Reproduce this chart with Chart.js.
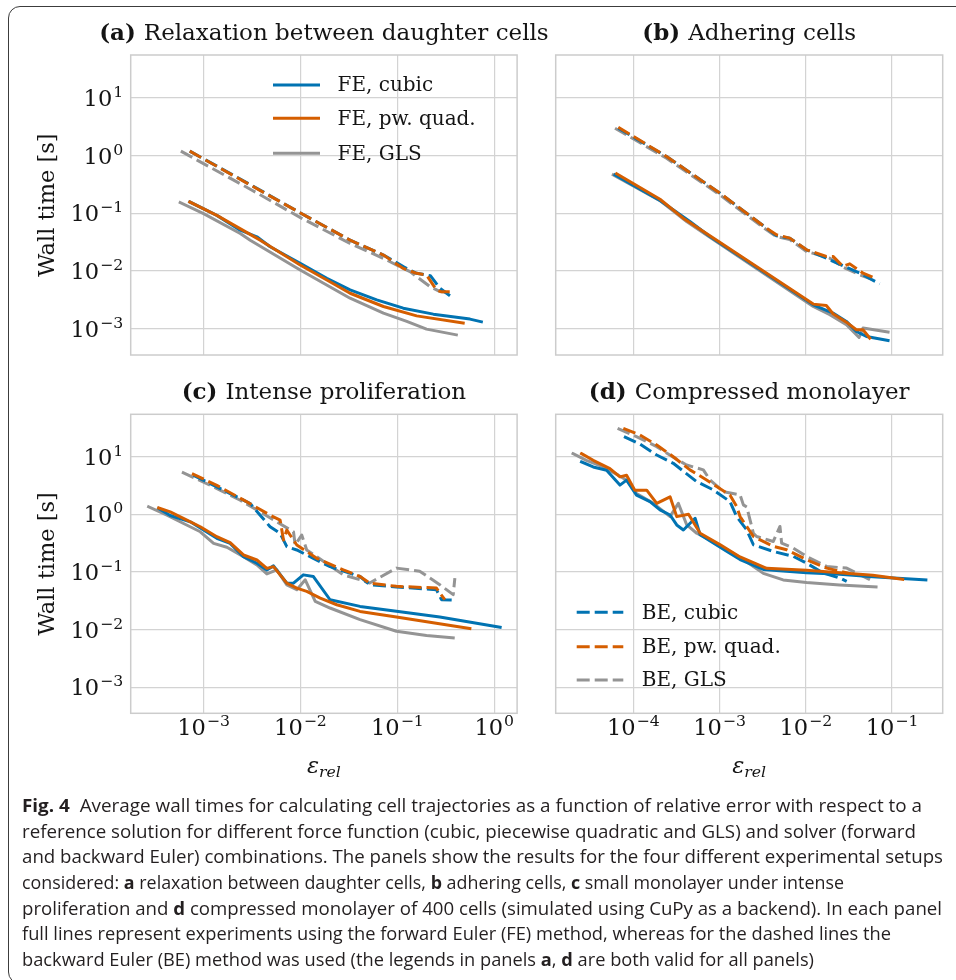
<!DOCTYPE html>
<html>
<head>
<meta charset="utf-8">
<script src="https://cdn.jsdelivr.net/npm/chart.js@4.4.1/dist/chart.umd.min.js"></script>
<style>
  html, body { margin: 0; padding: 0; background: #fff; }
  body { width: 956px; height: 980px; position: relative; overflow: hidden; }
  #frame { position: absolute; left: 8px; top: 6px; width: 990px; height: 978px; border: 1px solid #3c3c3c; border-radius: 12px; box-sizing: border-box; }
  canvas { position: absolute; }
  .cap { position: absolute; left: 22px; white-space: nowrap; font-family: "Open Sans", sans-serif; font-size: 17.5px; line-height: 26px; color: #231f20; transform-origin: 0 50%; }
</style>
</head>
<body>
<div id="frame"></div>
<canvas id="pb" width="416" height="370" style="left:540px;top:0"></canvas>
<canvas id="pd" width="416" height="430" style="left:540px;top:370px"></canvas>
<canvas id="pa" width="560" height="370" style="left:0;top:0"></canvas>
<canvas id="pc" width="560" height="430" style="left:0;top:370px"></canvas>

<div class="cap" data-r="922" style="top:792px"><b>Fig. 4</b>&nbsp; Average wall times for calculating cell trajectories as a function of relative error with respect to a</div>
<div class="cap" data-r="916" style="top:817.7px">reference solution for different force function (cubic, piecewise quadratic and GLS) and solver (forward</div>
<div class="cap" data-r="943" style="top:843.3px">and backward Euler) combinations. The panels show the results for the four different experimental setups</div>
<div class="cap" data-r="844" style="top:869px">considered: <b>a</b> relaxation between daughter cells, <b>b</b> adhering cells, <b>c</b> small monolayer under intense</div>
<div class="cap" data-r="942" style="top:894.7px">proliferation and <b>d</b> compressed monolayer of 400 cells (simulated using CuPy as a backend). In each panel</div>
<div class="cap" data-r="891" style="top:920.3px">full lines represent experiments using the forward Euler (FE) method, whereas for the dashed lines the</div>
<div class="cap" data-r="814" style="top:946px">backward Euler (BE) method was used (the legends in panels <b>a</b>, <b>d</b> are both valid for all panels)</div>

<script>
// ---- data: [relative error, wall time (s)] ----
// (a) relaxation between daughter cells
const relaxFeCubic = [[7.2e-4,0.157],[1.37e-3,0.092],[2.39e-3,0.0509],[3.55e-3,0.0391],[4.86e-3,0.0263],[9.93e-3,0.0136],[1.87e-2,7.48e-3],[3.25e-2,4.7e-3],[6.12e-2,3.16e-3],[0.115,2.27e-3],[0.235,1.79e-3],[0.561,1.47e-3],[0.736,1.32e-3]];
const relaxFeQuad = [[7.2e-4,0.157],[1.37e-3,0.092],[3.84e-3,0.0342],[9.93e-3,0.0127],[1.87e-2,7.0e-3],[3.25e-2,4.12e-3],[7.18e-2,2.43e-3],[0.158,1.67e-3],[0.478,1.26e-3]];
const relaxFeGls = [[5.74e-4,0.153],[1.0e-3,0.0986],[2.39e-3,0.0446],[3.03e-3,0.0342],[9.93e-3,0.0104],[3.25e-2,3.38e-3],[7.18e-2,1.86e-3],[0.125,1.34e-3],[0.2,9.86e-4],[0.406,7.85e-4]];
const relaxBeCubic = [[7.2e-4,1.19],[3.16e-3,0.302],[1.0e-2,0.101],[3.25e-2,0.0342],[7.18e-2,0.0189],[0.115,0.0119],[0.158,9.12e-3],[0.219,8.3e-3],[0.275,5.0e-3],[0.349,3.73e-3]];
const relaxBeQuad = [[7.2e-4,1.19],[3.16e-3,0.297],[1.0e-2,0.101],[3.25e-2,0.0342],[7.18e-2,0.0189],[0.115,0.0111],[0.158,9.12e-3],[0.2,8.53e-3],[0.251,4.8e-3],[0.282,4.37e-3],[0.347,4.37e-3]];
const relaxBeGls = [[5.83e-4,1.19],[3.16e-3,0.251],[1.0e-2,0.0841],[3.25e-2,0.030],[7.18e-2,0.0165],[0.135,9.75e-3],[0.217,5.37e-3],[0.275,4.41e-3],[0.336,4.23e-3]];

// (b) adhering cells
const adhFeCubic = [[6.14e-5,0.462],[2.04e-4,0.166],[4.53e-4,0.0719],[7.73e-4,0.0396],[1.22e-2,2.6e-3],[2.07e-2,1.87e-3],[2.96e-2,1.34e-3],[3.86e-2,8.97e-4],[5.05e-2,7.36e-4],[9.0e-2,6.27e-4]];
const adhFeQuad = [[6.41e-5,0.482],[2.04e-4,0.175],[3.79e-4,0.0822],[7.73e-4,0.0406],[1.22e-2,2.67e-3],[1.73e-2,2.53e-3],[2.07e-2,1.82e-3],[2.96e-2,1.3e-3],[3.86e-2,9.6e-4],[4.61e-2,9.6e-4],[5.51e-2,6.89e-4]];
const adhFeGls = [[5.86e-5,0.462],[2.04e-4,0.166],[4.15e-4,0.0719],[7.73e-4,0.0385],[1.22e-2,2.43e-3],[1.9e-2,1.75e-3],[2.96e-2,1.17e-3],[4.15e-2,7.06e-4],[4.61e-2,1.03e-3],[9.0e-2,8.75e-4]];
const adhBeCubic = [[6.7e-5,2.97],[2.43e-4,0.962],[1.01e-3,0.223],[3.5e-3,0.0552],[4.57e-3,0.0406],[6.53e-3,0.0371],[1.02e-2,0.0233],[1.73e-2,0.0167],[2.7e-2,0.0123],[4.22e-2,9.18e-3],[7.19e-2,6.0e-3]];
const adhBeQuad = [[6.7e-5,3.09],[2.43e-4,0.962],[1.01e-3,0.223],[3.5e-3,0.0552],[4.57e-3,0.0424],[6.53e-3,0.0371],[1.02e-2,0.0233],[1.73e-2,0.0179],[2.07e-2,0.0179],[2.7e-2,0.012],[3.24e-2,0.0133],[4.61e-2,9.18e-3],[6.3e-2,7.52e-3]];
const adhBeGls = [[6.14e-5,2.97],[2.43e-4,0.899],[1.01e-3,0.208],[3.5e-3,0.0516],[4.57e-3,0.0396],[6.53e-3,0.035],[1.02e-2,0.0218],[1.9e-2,0.0167],[2.7e-2,0.0117],[4.22e-2,8.6e-3],[5.77e-2,7.23e-3]];

// (c) intense proliferation
const prolFeCubic = [[3.44e-4,1.27],[4.53e-4,0.962],[7.29e-4,0.746],[1.37e-3,0.385],[1.88e-3,0.315],[2.58e-3,0.185],[3.55e-3,0.142],[4.5e-3,0.109],[5.27e-3,0.128],[7.23e-3,0.0641],[8.47e-3,0.0641],[1.07e-2,0.0893],[1.36e-2,0.0836],[2.02e-2,0.033],[4.12e-2,0.0253],[9.77e-2,0.0208],[0.274,0.0166],[1.15,0.011]];
const prolFeQuad = [[3.44e-4,1.30],[4.53e-4,1.11],[6.73e-4,0.798],[9.25e-4,0.612],[1.37e-3,0.411],[1.88e-3,0.324],[2.58e-3,0.198],[3.55e-3,0.162],[4.5e-3,0.116],[5.27e-3,0.124],[7.23e-3,0.0641],[9.16e-3,0.0525],[1.16e-2,0.046],[1.6e-2,0.0353],[2.37e-2,0.027],[4.12e-2,0.0207],[9.77e-2,0.0166],[0.56,0.0104]];
const prolFeGls = [[2.71e-4,1.36],[4.19e-4,0.973],[6.22e-4,0.698],[9.25e-4,0.501],[1.27e-3,0.315],[1.74e-3,0.269],[2.58e-3,0.185],[3.55e-3,0.133],[4.5e-3,0.0929],[5.7e-3,0.109],[7.23e-3,0.060],[9.16e-3,0.0492],[1.12e-2,0.0733],[1.42e-2,0.0309],[2.02e-2,0.0237],[4.12e-2,0.0149],[9.77e-2,9.35e-3],[0.2,7.9e-3],[0.377,7.16e-3]];
const prolBeCubic = [[7.89e-4,4.79],[1.88e-3,2.31],[3.03e-3,1.55],[3.84e-3,0.973],[4.86e-3,0.612],[6.17e-3,0.469],[7.23e-3,0.276],[9.16e-3,0.242],[1.36e-2,0.173],[2.02e-2,0.124],[4.12e-2,0.0836],[5.18e-2,0.0603],[9.77e-2,0.055],[0.253,0.0494],[0.285,0.0331],[0.407,0.0323]];
const prolBeQuad = [[7.59e-4,5.12],[1.37e-3,3.21],[2.8e-3,1.66],[4.86e-3,0.973],[6.17e-3,0.798],[6.68e-3,0.36],[7.23e-3,0.536],[9.16e-3,0.295],[1.47e-2,0.173],[2.77e-2,0.109],[4.12e-2,0.0836],[5.18e-2,0.0644],[9.77e-2,0.0564],[0.253,0.0528],[0.274,0.0433],[0.309,0.0331]];
const prolBeGls = [[5.98e-4,5.47],[1.27e-3,3.01],[2.39e-3,1.77],[3.84e-3,1.11],[5.7e-3,0.746],[8.47e-3,0.501],[8.81e-3,0.295],[1.03e-2,0.44],[1.16e-2,0.242],[1.47e-2,0.185],[2.77e-2,0.0893],[4.12e-2,0.0733],[5.18e-2,0.0644],[9.77e-2,0.117],[0.17,0.103],[0.274,0.0603],[0.377,0.0405],[0.392,0.0787]];

// (d) compressed monolayer
const monoFeCubic = [[2.51e-5,8.2],[3.43e-5,6.71],[4.9e-5,5.87],[7.0e-5,3.24],[8.36e-5,3.95],[1.09e-4,2.17],[1.56e-4,1.67],[2.04e-4,1.2],[2.67e-4,0.98],[3.19e-4,0.658],[3.81e-4,0.539],[5.21e-4,0.859],[5.96e-4,0.443],[1.22e-3,0.228],[1.73e-3,0.165],[3.22e-3,0.111],[1.02e-2,0.0975],[2.47e-2,0.0912],[5.98e-2,0.0832],[0.247,0.0729]];
const monoFeQuad = [[2.51e-5,11.4],[3.43e-5,8.75],[5.36e-5,6.28],[7.0e-5,4.51],[8.36e-5,4.82],[1.04e-4,2.65],[1.43e-4,2.65],[1.87e-4,1.56],[2.67e-4,2.03],[3.19e-4,0.918],[4.37e-4,1.01],[5.96e-4,0.472],[1.02e-3,0.297],[1.73e-3,0.183],[3.52e-3,0.116],[1.02e-2,0.107],[2.47e-2,0.0975],[5.98e-2,0.0877],[0.133,0.0748]];
const monoFeGls = [[2.0e-5,11.4],[2.86e-5,8.75],[4.48e-5,6.71],[6.7e-5,4.82],[8.36e-5,3.95],[1.09e-4,2.32],[1.71e-4,1.56],[2.67e-4,0.918],[3.33e-4,1.56],[4.17e-4,0.658],[5.44e-4,0.472],[7.78e-4,0.362],[1.22e-3,0.243],[1.9e-3,0.163],[3.22e-3,0.0948],[5.47e-3,0.0729],[1.02e-2,0.0656],[2.47e-2,0.0598],[6.53e-2,0.0553]];
const monoBeCubic = [[7.8e-5,22.5],[1.19e-4,16.8],[1.87e-4,10.8],[2.91e-4,7.76],[5.42e-4,3.73],[8.47e-4,2.68],[1.32e-3,1.68],[1.58e-3,0.923],[2.06e-3,0.542],[2.47e-3,0.298],[4.2e-3,0.228],[7.16e-3,0.187],[1.02e-2,0.143],[1.6e-2,0.0961],[2.49e-2,0.0787],[2.98e-2,0.0689]];
const monoBeQuad = [[7.66e-5,31.4],[1.19e-4,24.1],[1.87e-4,16.1],[2.91e-4,10.1],[4.54e-4,5.96],[7.08e-4,3.99],[9.25e-4,3.06],[1.32e-3,2.19],[1.58e-3,1.38],[1.73e-3,0.923],[2.47e-3,0.415],[4.2e-3,0.279],[6.0e-3,0.244],[1.02e-2,0.164],[1.75e-2,0.117],[3.26e-2,0.0935]];
const monoBeGls = [[6.58e-5,31.4],[1.09e-4,22.5],[1.87e-4,15.1],[2.91e-4,9.86],[4.15e-4,7.26],[6.49e-4,5.96],[7.74e-4,3.99],[1.11e-3,2.5],[1.73e-3,2.19],[1.89e-3,1.47],[2.07e-3,1.35],[2.47e-3,0.472],[2.69e-3,0.415],[4.2e-3,0.34],[5.02e-3,0.619],[5.25e-3,0.318],[7.16e-3,0.261],[1.02e-2,0.187],[1.75e-2,0.125],[2.98e-2,0.117],[5.55e-2,0.0736]];

// tick labels (powers of ten) and axis limits
const yTickExp = [-3, -2, -1, 0, 1];
const xTickExpAC = [-3, -2, -1, 0];
const xTickExpBD = [-4, -3, -2, -1];
const yLim = [3.51e-4, 55.1];
const xLimAC = [1.77e-4, 1.72];
const xLimBD = [1.26e-5, 0.387];

const seriesNames = ['FE, cubic', 'FE, pw. quad.', 'FE, GLS', 'BE, cubic', 'BE, pw. quad.', 'BE, GLS'];

const COLORS = ['#0173b2', '#d55e00', '#949494'];
const SERIF = '"DejaVu Serif", serif';
const INK = '#141414';

function makeDataset(i, pts) {
  const kind = i % 3;
  return {
    label: seriesNames[i],
    data: pts.map(p => ({ x: p[0], y: p[1] })),
    borderColor: COLORS[kind],
    borderWidth: 3,
    borderDash: i >= 3 ? [13, 5] : [],
    borderCapStyle: i >= 3 ? 'butt' : 'square',
    borderJoinStyle: 'round',
    pointRadius: 0,
    tension: 0,
    fill: false,
    order: kind === 1 ? 1 : (kind === 0 ? 2 : 3)
  };
}

function drawPow(ctx, e, x, y, align) {
  const sup = (e < 0 ? '\u2212' : '') + Math.abs(e);
  ctx.font = '22.5px ' + SERIF;
  const w1 = ctx.measureText('10').width;
  ctx.font = '15.7px ' + SERIF;
  const w2 = ctx.measureText(sup).width;
  const start = align === 'right' ? x - w1 - w2 - 1 : x - (w1 + w2 + 1) / 2;
  ctx.textAlign = 'left';
  ctx.textBaseline = 'alphabetic';
  ctx.font = '22.5px ' + SERIF;
  ctx.fillText('10', start, y);
  ctx.font = '15.7px ' + SERIF;
  ctx.fillText(sup, start + w1 + 1, y - 9);
}

const decor = {
  id: 'decor',
  afterDraw(chart, args, o) {
    const ctx = chart.ctx;
    const a = chart.chartArea;
    ctx.save();
    // axes frame
    ctx.strokeStyle = '#cccccc';
    ctx.lineWidth = 1.5;
    ctx.setLineDash([]);
    ctx.strokeRect(a.left, a.top, a.right - a.left, a.bottom - a.top);

    ctx.fillStyle = INK;
    // title
    ctx.textBaseline = 'alphabetic';
    ctx.textAlign = 'left';
    ctx.font = 'bold 23px ' + SERIF;
    const w1 = ctx.measureText(o.tag + ' ').width;
    ctx.font = '23px ' + SERIF;
    const w2 = ctx.measureText(o.title).width;
    const tx = (a.left + a.right) / 2 - (w1 + w2) / 2;
    ctx.font = 'bold 23px ' + SERIF;
    ctx.fillText(o.tag, tx, a.top - 15);
    ctx.font = '23px ' + SERIF;
    ctx.fillText(o.title, tx + w1, a.top - 15);

    // tick labels
    if (o.yTicks) {
      o.yTicks.forEach(e => drawPow(ctx, e, a.left - 7.5, chart.scales.y.getPixelForValue(Math.pow(10, e)) + 8, 'right'));
      ctx.save();
      ctx.translate(53.5, (a.top + a.bottom) / 2);
      ctx.rotate(-Math.PI / 2);
      ctx.font = '22.5px ' + SERIF;
      ctx.textAlign = 'center';
      ctx.textBaseline = 'alphabetic';
      ctx.fillText('Wall time [s]', 0, 0);
      ctx.restore();
    }
    if (o.xTicks) {
      o.xTicks.forEach(e => drawPow(ctx, e, chart.scales.x.getPixelForValue(Math.pow(10, e)), a.bottom + 21.7, 'center'));
      // x label: epsilon_rel
      ctx.font = 'italic 22.5px ' + SERIF;
      const we = ctx.measureText('\u03b5').width;
      ctx.font = 'italic 15.7px ' + SERIF;
      const wr = ctx.measureText('rel').width;
      const lx = (a.left + a.right) / 2 - (we + wr) / 2;
      ctx.textAlign = 'left';
      ctx.font = 'italic 22.5px ' + SERIF;
      ctx.fillText('\u03b5', lx, a.bottom + 59.5);
      ctx.font = 'italic 15.7px ' + SERIF;
      ctx.fillText('rel', lx + we, a.bottom + 63.5);
    }

    // legend (no frame)
    if (o.legend) {
      const L = o.legend;
      L.items.forEach((idx, k) => {
        const ds = chart.data.datasets[idx];
        const y = L.rows[k];
        ctx.strokeStyle = ds.borderColor;
        ctx.lineWidth = 3;
        ctx.lineCap = 'butt';
        ctx.setLineDash(ds.borderDash);
        ctx.beginPath();
        ctx.moveTo(L.x0, y);
        ctx.lineTo(L.x1, y);
        ctx.stroke();
        ctx.setLineDash([]);
        ctx.fillStyle = INK;
        ctx.font = '20px ' + SERIF;
        ctx.textAlign = 'left';
        ctx.textBaseline = 'middle';
        ctx.fillText(ds.label, L.tx, y + 1);
      });
    }
    ctx.restore();
  }
};

function logAxis(lim, exps, horizontal) {
  return {
    type: 'logarithmic',
    min: lim[0],
    max: lim[1],
    afterBuildTicks: s => { s.ticks = exps.map(e => ({ value: Math.pow(10, e) })); },
    afterFit: s => { if (horizontal) s.height = 0; else s.width = 0; },
    ticks: { display: false },
    grid: { color: '#d3d3d3', lineWidth: 1.2, drawTicks: false },
    border: { display: false }
  };
}

function makePanel(id, series, xLim, xExp, pad, deco) {
  const datasets = series.map((pts, i) => makeDataset(i, pts));
  return new Chart(document.getElementById(id), {
    type: 'line',
    data: { datasets },
    options: {
      responsive: false,
      animation: false,
      devicePixelRatio: 1,
      layout: { padding: pad },
      plugins: { legend: { display: false }, tooltip: { enabled: false }, decor: deco },
      scales: {
        x: logAxis(xLim, xExp, true),
        y: logAxis(yLim, yTickExp, false)
      }
    },
    plugins: [decor]
  });
}

makePanel('pa', [relaxFeCubic, relaxFeQuad, relaxFeGls, relaxBeCubic, relaxBeQuad, relaxBeGls], xLimAC, xTickExpAC,
  { left: 130.7, top: 55, right: 42.9, bottom: 15 },
  { tag: '(a)', title: 'Relaxation between daughter cells', yTicks: yTickExp, xTicks: null,
    legend: { items: [0, 1, 2], x0: 273, x1: 320, rows: [85, 118.3, 153.3], tx: 337.5 } });

makePanel('pb', [adhFeCubic, adhFeQuad, adhFeGls, adhBeCubic, adhBeQuad, adhBeGls], xLimBD, xTickExpBD,
  { left: 15.7, top: 55, right: 13.3, bottom: 15 },
  { tag: '(b)', title: 'Adhering cells', yTicks: null, xTicks: null, legend: null });

makePanel('pc', [prolFeCubic, prolFeQuad, prolFeGls, prolBeCubic, prolBeQuad, prolBeGls], xLimAC, xTickExpAC,
  { left: 130.7, top: 44.3, right: 42.9, bottom: 86.7 },
  { tag: '(c)', title: 'Intense proliferation', yTicks: yTickExp, xTicks: xTickExpAC, legend: null });

makePanel('pd', [monoFeCubic, monoFeQuad, monoFeGls, monoBeCubic, monoBeQuad, monoBeGls], xLimBD, xTickExpBD,
  { left: 15.7, top: 44.3, right: 13.3, bottom: 86.7 },
  { tag: '(d)', title: 'Compressed monolayer', yTicks: null, xTicks: xTickExpBD,
    legend: { items: [3, 4, 5], x0: 36.7, x1: 83.3, rows: [242.3, 276.7, 310], tx: 101.7 } });

// squeeze each caption line to the width it has in the printed figure
document.querySelectorAll('.cap').forEach(el => {
  const w = el.getBoundingClientRect().width;
  el.style.transform = 'scaleX(' + ((+el.dataset.r - 22) / w) + ')';
});
</script>
</body>
</html>
